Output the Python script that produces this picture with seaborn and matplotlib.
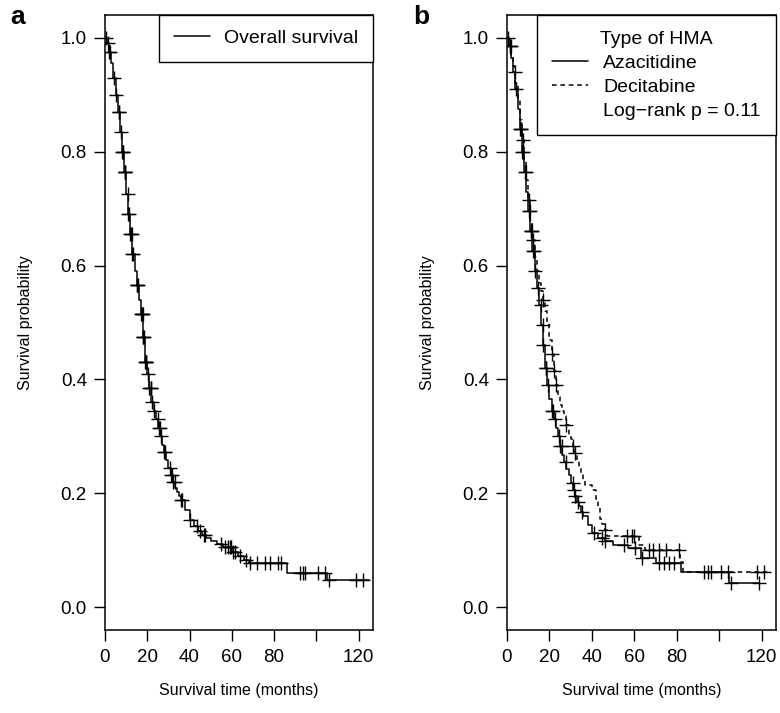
import numpy as np
import pandas as pd
import matplotlib
matplotlib.use("Agg")
import matplotlib.pyplot as plt
import seaborn as sns
from matplotlib.lines import Line2D

# Panel a: overall survival (Kaplan-Meier knots)
os_time = [0, 1, 2, 3, 4, 5, 6, 7, 8, 9, 10, 11, 12, 13, 14, 15, 16, 17, 18, 19,
           20, 21, 22, 23, 24, 25, 26, 27, 28, 29, 30, 31, 32, 33, 34, 35, 36, 38,
           40, 42, 44, 46, 48, 50, 53, 56, 60, 63, 66, 68, 86, 105, 125]
os_surv = [1.0, 0.99, 0.975, 0.955, 0.93, 0.90, 0.87, 0.835, 0.80, 0.765, 0.725,
           0.69, 0.655, 0.62, 0.59, 0.565, 0.54, 0.515, 0.475, 0.43, 0.41, 0.385,
           0.36, 0.345, 0.33, 0.315, 0.30, 0.285, 0.272, 0.258, 0.245, 0.232, 0.22,
           0.21, 0.202, 0.195, 0.188, 0.17, 0.153, 0.143, 0.134, 0.127, 0.121,
           0.117, 0.111, 0.105, 0.097, 0.09, 0.083, 0.077, 0.06, 0.047, 0.047]
os_censor = [0.5, 1.3, 2.0, 2.5, 4.3, 5.1, 6.4, 6.6, 7.5, 8.0, 8.3, 8.5, 9.4, 9.5,
             9.6, 10.8, 11.1, 11.5, 12.0, 12.2, 12.7, 13.0, 13.2, 15.2, 15.3, 15.4,
             17.2, 17.6, 17.7, 17.9, 18.0, 18.1, 18.3, 19.0, 19.3, 19.4, 19.5, 20.4,
             21.0, 21.7, 21.8, 22.3, 23.4, 24.9, 25.5, 25.9, 26.3, 28.1, 28.4, 30.8,
             31.3, 31.8, 32.3, 32.9, 36.0, 36.5, 40.0, 43.5, 45.0, 47.0, 47.2, 55.1,
             56.7, 58.3, 59.0, 59.8, 60.6, 61.4, 63.8, 66.9, 68.5, 71.7, 75.6, 77.9,
             81.9, 83.5, 92.1, 93.7, 94.5, 100.8, 103.9, 106.0, 118.9, 122.0]

# Panel b: azacitidine (solid)
aza_time = [0, 1, 2, 3, 4, 5, 6, 7, 8, 9, 10, 11, 12, 13, 14, 15, 16, 17, 18, 19,
            20, 21, 22, 23, 24, 25, 26, 27, 28, 29, 30, 31, 32, 33, 34, 35, 36, 38,
            40, 43, 46, 50, 57, 63, 70, 82, 104.5, 118.7]
aza_surv = [1.0, 0.985, 0.965, 0.94, 0.91, 0.875, 0.84, 0.80, 0.765, 0.73, 0.695,
            0.66, 0.625, 0.59, 0.56, 0.53, 0.495, 0.46, 0.42, 0.39, 0.365, 0.345,
            0.33, 0.315, 0.30, 0.283, 0.268, 0.255, 0.243, 0.232, 0.218, 0.205,
            0.195, 0.185, 0.177, 0.168, 0.16, 0.145, 0.13, 0.122, 0.116, 0.11,
            0.104, 0.086, 0.077, 0.062, 0.042, 0.042]
aza_censor = [0.3, 1.2, 1.5, 3.6, 4.4, 6.0, 6.5, 6.8, 7.1, 7.5, 8.3, 8.9, 10.2,
              10.7, 11.2, 11.4, 11.8, 12.1, 12.6, 13.0, 14.6, 15.9, 16.9, 17.2,
              18.3, 18.4, 19.2, 21.0, 21.8, 22.5, 24.4, 25.2, 25.9, 27.8, 30.9,
              31.5, 32.1, 33.3, 35.3, 40.8, 44.8, 46.4, 55.0, 60.5, 63.6, 71.5,
              74.0, 76.4, 78.7, 105.4, 118.7]

# Panel b: decitabine (dashed)
dec_time = [0, 1, 2, 3, 4, 5, 6, 7, 8, 9, 10, 11, 12, 13, 14, 15, 16, 17, 18, 19,
            20, 21, 22, 23, 24, 25, 26, 27, 28, 29, 30, 31, 32, 33, 34, 35, 36, 37,
            40, 42, 43, 44, 45, 46, 47, 62, 65, 81.5, 83, 124.5]
dec_surv = [1.0, 0.985, 0.97, 0.95, 0.92, 0.89, 0.855, 0.82, 0.785, 0.75, 0.715,
            0.68, 0.645, 0.615, 0.59, 0.57, 0.555, 0.54, 0.52, 0.50, 0.47, 0.445,
            0.415, 0.39, 0.37, 0.355, 0.345, 0.335, 0.32, 0.305, 0.295, 0.283,
            0.27, 0.258, 0.245, 0.235, 0.223, 0.215, 0.205, 0.19, 0.176, 0.155,
            0.147, 0.135, 0.125, 0.11, 0.10, 0.08, 0.062, 0.062]
dec_censor = [1.8, 7.6, 10.5, 12.3, 17.0, 21.1, 22.0, 23.2, 28.0, 31.2, 32.0,
              46.4, 56.7, 59.1, 59.9, 67.0, 68.6, 71.7, 74.9, 81.2, 93.0, 94.6,
              96.0, 101.0, 104.0, 118.0, 121.0]

x_ticks = [0, 20, 40, 60, 80, 100, 120]
x_tick_labels = ["0", "20", "40", "60", "80", "", "120"]
y_ticks = [0.0, 0.2, 0.4, 0.6, 0.8, 1.0]


def censor_frame(times, surv, censor):
    # y of each censor mark is the curve value at that time (step, right-continuous)
    t = np.asarray(times, dtype=float)
    s = np.asarray(surv, dtype=float)
    idx = np.searchsorted(t, censor, side="right") - 1
    return pd.DataFrame({"time": censor, "surv": s[idx]})


def draw_km(ax, times, surv, censor, dashes=None):
    curve = pd.DataFrame({"time": times, "surv": surv})
    kw = dict(color="black", linewidth=1.1)
    if dashes is not None:
        kw["dashes"] = dashes
    sns.lineplot(data=curve, x="time", y="surv", ax=ax, estimator=None,
                 sort=False, drawstyle="steps-post", **kw)
    marks = censor_frame(times, surv, censor)
    ax.plot(marks["time"], marks["surv"], linestyle="none", marker="+",
            markersize=10, markeredgewidth=1.0, color="black")


def style_axes(ax):
    ax.set_xlim(0, 126.8)
    ax.set_ylim(-0.04, 1.04)
    ax.set_xticks(x_ticks)
    ax.set_xticklabels(x_tick_labels)
    ax.set_yticks(y_ticks)
    ax.set_yticklabels([f"{v:.1f}" for v in y_ticks])
    ax.tick_params(direction="out", length=8, width=1.0, labelsize=13.5,
                   pad=5, color="black", labelcolor="black")
    ax.tick_params(axis="x", pad=6)
    for sp in ax.spines.values():
        sp.set_visible(True)
        sp.set_linewidth(1.1)
        sp.set_color("black")
    ax.set_xlabel("Survival time (months)", fontsize=11.5, labelpad=12,
                  color="black")
    ax.set_ylabel("Survival probability", fontsize=11.5, labelpad=20,
                  color="black")


sns.set_theme(style="ticks")
plt.rcParams["font.family"] = ["Liberation Sans", "DejaVu Sans"]
plt.rcParams["text.color"] = "black"

fig = plt.figure(figsize=(7.8, 7.13), dpi=100)
ax_a = fig.add_axes([105 / 780, 83 / 713, 268 / 780, 615 / 713])
ax_b = fig.add_axes([507 / 780, 83 / 713, 269 / 780, 615 / 713])

draw_km(ax_a, os_time, os_surv, os_censor)
style_axes(ax_a)
leg_a = ax_a.legend(handles=[Line2D([], [], color="black", lw=1.1)],
                    labels=["Overall survival"], loc="upper right",
                    borderaxespad=0, fancybox=False, edgecolor="black",
                    framealpha=1, fontsize=14, handlelength=1.85,
                    handletextpad=0.75, borderpad=0.75)
leg_a.get_frame().set_linewidth(1.0)

draw_km(ax_b, aza_time, aza_surv, aza_censor)
draw_km(ax_b, dec_time, dec_surv, dec_censor, dashes=(3, 2.5))
style_axes(ax_b)
handles_b = [Line2D([], [], color="black", lw=1.1),
             Line2D([], [], color="black", lw=1.1, linestyle=(0, (3, 2.5))),
             Line2D([], [], color="none")]
leg_b = ax_b.legend(handles=handles_b,
                    labels=["Azacitidine", "Decitabine", "Log\u2212rank p = 0.11"],
                    title="Type of HMA", loc="upper right", borderaxespad=0,
                    fancybox=False, edgecolor="black", framealpha=1,
                    fontsize=14, title_fontsize=14, handlelength=1.85,
                    handletextpad=0.75, borderpad=0.8, labelspacing=0.33)
leg_b.get_frame().set_linewidth(1.0)

fig.text(10 / 780, 1 - 5 / 713, "a", fontsize=19, fontweight="bold", va="top")
fig.text(413 / 780, 1 - 5 / 713, "b", fontsize=19, fontweight="bold", va="top")

fig.savefig("out.png", dpi=100)
